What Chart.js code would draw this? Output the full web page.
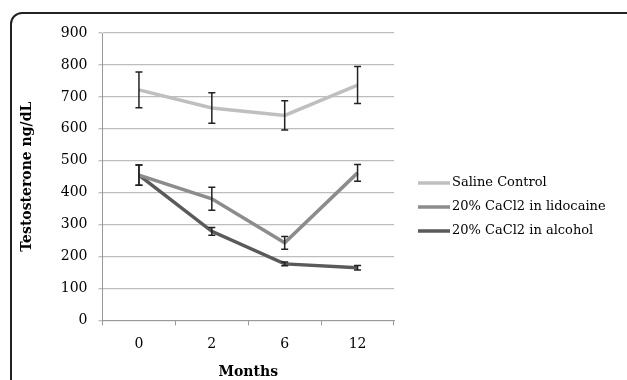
<!DOCTYPE html>
<html>
<head>
<meta charset="utf-8">
<script src="https://cdn.jsdelivr.net/npm/chart.js@4"></script>
<style>
  html, body { margin: 0; padding: 0; background: #fff; }
  #wrap { position: relative; width: 627px; height: 380px; overflow: hidden; }
  #frame {
    position: absolute; left: 10px; top: 12px; width: 640px; height: 400px;
    border: 2px solid #222; border-top-left-radius: 12px; box-sizing: border-box;
  }
  canvas { position: absolute; left: 0; top: 0; }
</style>
</head>
<body>
<div id="wrap">
  <div id="frame"></div>
  <canvas id="chart" width="627" height="380"></canvas>
</div>
<script>
/* Testosterone levels over time, three treatment groups */

const months = ['0', '2', '6', '12'];

const salineMean = [722, 665, 642, 737];
const salineErr  = [56, 48, 46, 58];

const lidoMean = [455, 381, 243, 462];
const lidoErr  = [32, 36, 20, 26];

const alcoholMean = [455, 279, 177, 165];
const alcoholErr  = [32, 12, 6, 7];

const COLORS = {
  saline: '#BFBFBF',
  lido: '#8C8C8C',
  alcohol: '#5A5A5A',
  grid: '#BDBDBD',
  text: '#000',
};

const FONT = "'DejaVu Serif', serif";

const errorBars = {
  id: 'errorBars',
  afterDatasetsDraw(chart) {
    const { ctx, scales: { x, y } } = chart;
    ctx.save();
    ctx.strokeStyle = '#222';
    ctx.lineWidth = 1.5;
    chart.data.datasets.forEach(ds => {
      ds.data.forEach((v, i) => {
        const px = x.getPixelForValue(i);
        const top = y.getPixelForValue(v + ds.err[i]);
        const bot = y.getPixelForValue(v - ds.err[i]);
        ctx.beginPath();
        ctx.moveTo(px, top); ctx.lineTo(px, bot);
        ctx.moveTo(px - 3.5, top); ctx.lineTo(px + 3.5, top);
        ctx.moveTo(px - 3.5, bot); ctx.lineTo(px + 3.5, bot);
        ctx.stroke();
      });
    });
    ctx.restore();
  },
};

const sideLegend = {
  id: 'sideLegend',
  afterDraw(chart) {
    const { ctx } = chart;
    const x0 = 418, y0 = 183, step = 24;
    ctx.save();
    ctx.font = `13px ${FONT}`;
    ctx.textBaseline = 'middle';
    chart.data.datasets.forEach((ds, i) => {
      const yy = y0 + i * step;
      ctx.strokeStyle = ds.borderColor;
      ctx.lineWidth = 3.5;
      ctx.beginPath();
      ctx.moveTo(x0, yy); ctx.lineTo(x0 + 32, yy);
      ctx.stroke();
      ctx.fillStyle = COLORS.text;
      ctx.fillText(ds.label, x0 + 34, yy);
    });
    ctx.restore();
  },
};

const lineDs = (label, data, err, color) => ({
  label, data, err,
  borderColor: color,
  backgroundColor: color,
  borderWidth: 3.5,
  pointRadius: 0,
  tension: 0,
  fill: false,
});

new Chart(document.getElementById('chart'), {
  type: 'line',
  data: {
    labels: months,
    datasets: [
      lineDs('Saline Control', salineMean, salineErr, COLORS.saline),
      lineDs('20% CaCl2 in lidocaine', lidoMean, lidoErr, COLORS.lido),
      lineDs('20% CaCl2 in alcohol', alcoholMean, alcoholErr, COLORS.alcohol),
    ],
  },
  options: {
    responsive: false,
    animation: false,
    layout: { padding: { left: 19, top: 33, right: 233, bottom: -1 } },
    plugins: {
      legend: { display: false },
      tooltip: { enabled: false },
    },
    scales: {
      x: {
        offset: true,
        grid: {
          offset: true,
          drawOnChartArea: false,
          drawTicks: true,
          tickLength: 5,
          color: '#999',
        },
        border: { color: '#999', width: 1 },
        ticks: { color: COLORS.text, font: { family: FONT, size: 14 }, padding: 11 },
        title: {
          display: true,
          text: 'Months',
          color: COLORS.text,
          font: { family: FONT, size: 14, weight: 'bold' },
          padding: { top: 0, bottom: 0 },
        },
      },
      y: {
        min: 0,
        max: 900,
        ticks: { stepSize: 100, color: COLORS.text, font: { family: FONT, size: 14 }, padding: 11 },
        grid: { color: COLORS.grid, lineWidth: 1.3, tickLength: 4 },
        border: { color: '#999', width: 1 },
        title: {
          display: true,
          text: 'Testosterone ng/dL',
          color: COLORS.text,
          font: { family: FONT, size: 14, weight: 'bold' },
          padding: { top: 0, bottom: 14 },
        },
      },
    },
  },
  plugins: [errorBars, sideLegend],
});
</script>
</body>
</html>
